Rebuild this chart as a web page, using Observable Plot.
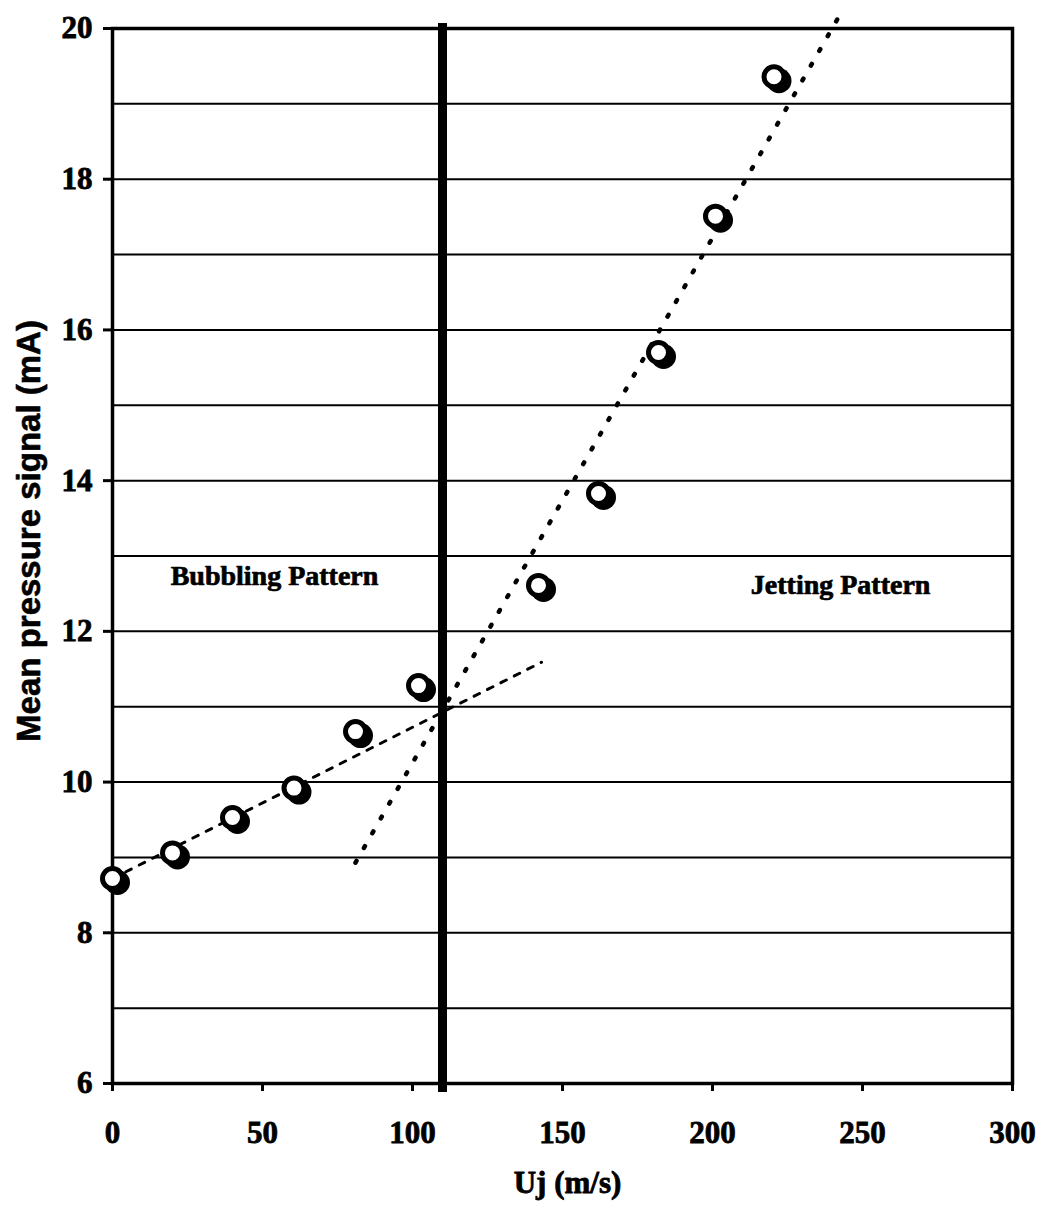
<!DOCTYPE html>
<html><head><meta charset="utf-8">
<script src="https://cdn.jsdelivr.net/npm/d3@7"></script>
<script src="https://cdn.jsdelivr.net/npm/@observablehq/plot@0.6"></script>
<style>
body{margin:0;background:#fff;}
#chart g[aria-label*="axis"] line, #chart g[aria-label*="axis"] path {stroke-width:3px;}
#chart g[aria-label*="axis"] text {stroke:#000; stroke-width:0.8px;}
</style>
</head><body><div id="chart"></div>
<script>
// Measured points (Uj in m/s, mean pressure signal in mA)
const uj = [0, 20, 40, 60.5, 81, 102, 142, 162, 182, 201, 220.5];
const signal = [8.72, 9.06, 9.53, 9.92, 10.67, 11.28, 12.61, 13.83, 15.70, 17.51, 19.36];
// Trend lines
const bubblingTrendX = [0, 143];
const bubblingTrendY = [8.72, 11.59];
const jettingTrendX = [81, 242];
const jettingTrendY = [8.93, 20.15];
// Transition velocity
const transition = [110];
// Region labels
const regionNames = ["Bubbling Pattern", "Jetting Pattern"];
const regionX = [54, 242.7];
const regionY = [12.74, 12.61];
// Axes
const xTicks = [0, 50, 100, 150, 200, 250, 300];
const yTicks = [6, 8, 10, 12, 14, 16, 18, 20];
const yGrid = [7, 8, 9, 10, 11, 12, 13, 14, 15, 16, 17, 18, 19];
const xTitle = "Uj (m/s)";
const yTitle = "Mean pressure signal (mA)";

const points = uj.map((x, i) => ({x, y: signal[i]}));
const lineA = bubblingTrendX.map((x, i) => ({x, y: bubblingTrendY[i]}));
const lineB = jettingTrendX.map((x, i) => ({x, y: jettingTrendY[i]}));
const regions = regionNames.map((t, i) => ({t, x: regionX[i], y: regionY[i]}));

const serif = "'Liberation Serif', 'Times New Roman', serif";
const chart = Plot.plot({
  width: 1042, height: 1209,
  marginLeft: 112, marginRight: 30, marginTop: 28, marginBottom: 126,
  style: {background: "#fff", color: "#000", fontFamily: serif, fontSize: "31px", fontWeight: "bold", overflow: "visible"},
  x: {domain: [0, 300], ticks: xTicks, tickSize: 8, tickPadding: 29, label: null, tickFormat: d => String(d)},
  y: {domain: [6, 20], ticks: yTicks, tickSize: 9, tickPadding: 11, label: null, tickFormat: d => String(d)},
  marks: [
    Plot.ruleY(yGrid, {stroke: "#000", strokeWidth: 2}),
    Plot.frame({stroke: "#000", strokeWidth: 3.5}),
    Plot.ruleX(transition, {stroke: "#000", strokeWidth: 9, insetTop: -5, insetBottom: -9}),
    Plot.line(lineA, {x: "x", y: "y", stroke: "#000", strokeWidth: 3, strokeDasharray: "6,9"}),
    Plot.line(lineB, {x: "x", y: "y", stroke: "#000", strokeWidth: 4.5, strokeDasharray: "2,15", strokeLinecap: "round"}),
    Plot.dot(points, {x: "x", y: "y", r: 12.5, fill: "#000", stroke: "none", dx: 5, dy: 4}),
    Plot.dot(points, {x: "x", y: "y", r: 10, fill: "#fff", stroke: "#000", strokeWidth: 5}),
    Plot.text(regions, {x: "x", y: "y", text: "t", fontSize: 28, fontFamily: serif, fontWeight: "bold", fill: "#000", stroke: "#000", strokeWidth: 0.7}),
    Plot.text([xTitle], {frameAnchor: "bottom", text: d => d, lineAnchor: "middle", textAnchor: "middle", dx: 5, dy: 100, fontSize: 31, fontFamily: serif, fontWeight: "bold", fill: "#000", stroke: "#000", strokeWidth: 0.8}),
    Plot.text([yTitle], {frameAnchor: "left", text: d => d, rotate: -90, textAnchor: "middle", lineAnchor: "middle", dx: -83, dy: -25, fontSize: 33, fontFamily: "'Liberation Sans', Arial, sans-serif", fontWeight: "bold", fill: "#000", stroke: "#000", strokeWidth: 0.6})
  ]
});
document.getElementById("chart").appendChild(chart);
</script>
</body></html>
